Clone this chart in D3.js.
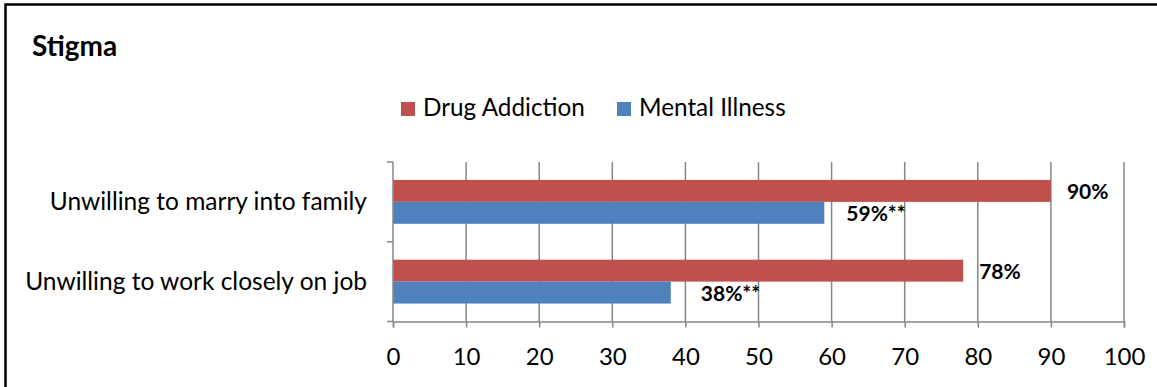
<!DOCTYPE html>
<html>
<head>
<meta charset="utf-8">
<script src="https://cdn.jsdelivr.net/npm/d3@7/dist/d3.min.js"></script>
<style>
  html, body { margin: 0; padding: 0; background: #fff; }
  svg { display: block; font-family: Lato, "Noto Sans", sans-serif; }
</style>
</head>
<body>
<svg id="chart" width="1157" height="387"></svg>
<script>
// Survey results: share of respondents unwilling, by condition
const categories = ["Unwilling to marry into family", "Unwilling to work closely on job"];
const seriesNames = ["Drug Addiction", "Mental Illness"];
const drugAddiction = [90, 78];
const mentalIllness = [59, 38];
const valueLabels = [["90%", "78%"], ["59%**", "38%**"]];
const xTicks = [0, 10, 20, 30, 40, 50, 60, 70, 80, 90, 100];

const colors = ["#C0504D", "#4F81BD"];
const labelNudge = [[16, 16], [22, 30]];   // gap between bar end and its label, px

const svg = d3.select("#chart");
const W = 1157, H = 387;

// frame (only top and left edges fall inside the canvas)
svg.append("path")
  .attr("d", `M5.5,${H} V4.5 H${W}`)
  .attr("fill", "none").attr("stroke", "#000").attr("stroke-width", 2.5);

// title
svg.append("text").attr("x", 32).attr("y", 56)
  .attr("font-size", 28).attr("font-weight", "bold").attr("fill", "#000")
  .text("Stigma");

const plot = { left: 393, right: 1124, top: 162, bottom: 321.5 };

const x = d3.scaleLinear().domain([0, 100]).range([plot.left, plot.right]);
const y = d3.scaleBand().domain(categories).range([plot.top, plot.bottom]).paddingInner(0.45).paddingOuter(0.225);
const ySub = d3.scaleBand().domain(seriesNames).range([0, y.bandwidth()]);

const g = svg.append("g");

// vertical gridlines
g.append("g").selectAll("line").data(xTicks.slice(1)).join("line")
  .attr("x1", d => x(d)).attr("x2", d => x(d))
  .attr("y1", plot.top).attr("y2", plot.bottom)
  .attr("stroke", "#878787").attr("stroke-width", 1.5);

// bars
const series = [drugAddiction, mentalIllness];
series.forEach((vals, si) => {
  g.append("g").selectAll("rect").data(vals).join("rect")
    .attr("x", x(0))
    .attr("y", (d, i) => y(categories[i]) + ySub(seriesNames[si]))
    .attr("width", d => x(d) - x(0))
    .attr("height", ySub.bandwidth())
    .attr("fill", colors[si]);
});

// bottom axis
const xAxis = d3.axisBottom(x).tickValues(xTicks).tickSize(6).tickPadding(20).tickFormat(d3.format("d"));
const ax = g.append("g").attr("transform", `translate(0,${plot.bottom})`).call(xAxis);
ax.select(".domain").attr("stroke", "#878787").attr("stroke-width", 1.5);
ax.selectAll(".tick line").attr("stroke", "#878787").attr("stroke-width", 1.5);
ax.selectAll(".tick text").attr("font-size", 24).attr("fill", "#000").attr("font-family", "Lato, sans-serif");

// left axis: line with tick marks at category boundaries
const yEdges = [plot.top, (plot.top + plot.bottom) / 2, plot.bottom];
g.append("line").attr("x1", plot.left).attr("x2", plot.left)
  .attr("y1", plot.top).attr("y2", plot.bottom)
  .attr("stroke", "#878787").attr("stroke-width", 1.5);
g.append("g").selectAll("line").data(yEdges).join("line")
  .attr("x1", plot.left - 6).attr("x2", plot.left)
  .attr("y1", d => d).attr("y2", d => d)
  .attr("stroke", "#878787").attr("stroke-width", 1.5);

// category labels
g.append("g").selectAll("text").data(categories).join("text")
  .attr("x", 367).attr("y", d => y(d) + y.bandwidth() / 2)
  .attr("dy", "0.35em").attr("text-anchor", "end")
  .attr("font-size", 24.5).attr("fill", "#000")
  .text(d => d);

// value labels
series.forEach((vals, si) => {
  g.append("g").selectAll("text").data(vals).join("text")
    .attr("x", (d, i) => x(d) + labelNudge[si][i])
    .attr("y", (d, i) => y(categories[i]) + ySub(seriesNames[si]) + ySub.bandwidth() / 2)
    .attr("dy", "0.38em")
    .attr("font-size", 21).attr("font-weight", "bold").attr("fill", "#000")
    .text((d, i) => valueLabels[si][i]);
});

// legend
const legendItems = [{ name: seriesNames[0], x: 401 }, { name: seriesNames[1], x: 617 }];
const lg = svg.append("g").selectAll("g").data(legendItems).join("g")
  .attr("transform", d => `translate(${d.x},102)`);
lg.append("rect").attr("width", 14).attr("height", 14).attr("fill", (d, i) => colors[i]);
lg.append("text").attr("x", 22).attr("y", 14).attr("font-size", 24.3).attr("fill", "#000").text(d => d.name);
</script>
</body>
</html>
